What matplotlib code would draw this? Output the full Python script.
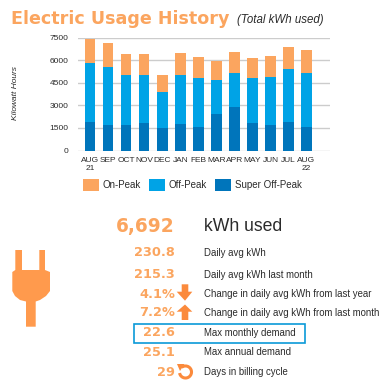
import numpy as np
import matplotlib
matplotlib.use("Agg")
from matplotlib import pyplot as plt
from matplotlib.patches import Arc, Polygon, Rectangle

months = ["AUG\n21", "SEP", "OCT", "NOV", "DEC", "JAN", "FEB", "MAR", "APR", "MAY", "JUN", "JUL", "AUG\n22"]
super_off_peak = [1897, 1720, 1676, 1853, 1522, 1765, 1588, 2404, 2912, 1809, 1676, 1897, 1544]
off_peak = [3905, 3795, 3354, 3132, 2338, 3220, 3199, 2250, 2228, 3022, 3199, 3486, 3618]
on_peak = [1628, 1615, 1370, 1405, 1180, 1485, 1433, 1316, 1410, 1329, 1365, 1497, 1530]
y_ticks = [0, 1500, 3000, 4500, 6000, 7500]

stat_values = ["6,692", "230.8", "215.3", "4.1%", "7.2%", "22.6", "25.1", "29"]
stat_labels = [
    "kWh used",
    "Daily avg kWh",
    "Daily avg kWh last month",
    "Change in daily avg kWh from last year",
    "Change in daily avg kWh from last month",
    "Max monthly demand",
    "Max annual demand",
    "Days in billing cycle",
]
stat_rows = [226.5, 253, 275, 294, 313, 333, 352, 372]

ORANGE = "#fba55f"
ICON = "#ff9a4d"
BLUE = "#00a3e6"
DARK = "#0075bb"
TEXT = "#2b2b2b"
SANS = "Liberation Sans"

W, H = 391, 389
fig = plt.figure(figsize=(W / 100, H / 100), dpi=100)

# overlay in pixel coords for the text and icons
bg = fig.add_axes([0, 0, 1, 1])
bg.set_xlim(0, W)
bg.set_ylim(H, 0)
bg.axis("off")

# bar chart
ax = fig.add_axes([78 / W, 1 - 150.5 / H, 252 / W, 113 / H])
x = np.arange(len(months))
bottom = np.zeros(len(months))
for vals, col, name in [
    (super_off_peak, DARK, "Super Off-Peak"),
    (off_peak, BLUE, "Off-Peak"),
    (on_peak, ORANGE, "On-Peak"),
]:
    ax.bar(x, vals, width=0.59, bottom=bottom, color=col, label=name, zorder=3)
    bottom += np.array(vals)

ax.set_xlim(-0.665, 13.3)
ax.set_ylim(0, 7500)
ax.set_yticks(y_ticks)
ax.set_xticks(x)
ax.set_xticklabels(months, fontsize=6, family=SANS, color=TEXT, linespacing=1.15)
ax.tick_params(axis="y", labelsize=6, labelcolor=TEXT, length=0, pad=7)
ax.tick_params(axis="x", length=0, pad=5)
for lab in ax.get_yticklabels():
    lab.set_family(SANS)
ax.grid(axis="y", color="#cccccc", linewidth=1, zorder=0)
ax.set_axisbelow(True)
for s in ax.spines.values():
    s.set_visible(False)
ax.patch.set_alpha(0)

handles, labels = ax.get_legend_handles_labels()
fig.legend(
    handles[::-1], labels[::-1], loc="center", bbox_to_anchor=(192.5 / W, 1 - 185 / H), ncol=3,
    frameon=False, prop={"family": SANS, "size": 7}, labelcolor=TEXT,
    handlelength=1.65, handleheight=1.65, handletextpad=0.35, columnspacing=0.85,
)

bg.text(11, 18.5, "Electric Usage History", fontsize=12.6, fontweight="bold", family="DejaVu Sans",
        color=ORANGE, va="center", ha="left")
bg.text(237, 19.5, "(Total kWh used)", fontsize=8.3, style="italic", family=SANS, color=TEXT,
        va="center", ha="left")
bg.text(15.7, 93, "Kilowatt Hours", fontsize=6, style="italic", family=SANS, color=TEXT,
        rotation=90, va="center", ha="center")

# stats block
for i, (val, lab, row) in enumerate(zip(stat_values, stat_labels, stat_rows)):
    bg.text(175, row, val, fontsize=13.4 if i == 0 else 9.3, fontweight="bold", family="DejaVu Sans",
            color=ORANGE, ha="right", va="center")
    bg.text(203.5, row, lab, fontsize=12.7 if i == 0 else 6.9, family=SANS, color=TEXT,
            ha="left", va="center")

bg.add_patch(Rectangle((133.5, 323.7), 171.5, 19.3, fill=False, edgecolor="#0a9ad8", linewidth=1.2))

# plug
bg.add_patch(Polygon(
    [(15.3, 250), (22, 250), (22, 270), (39.3, 270), (39.3, 250), (45, 250), (45, 270),
     (50, 272), (50, 291), (46, 296), (40, 300), (35.7, 301.5), (35.7, 326.7), (26, 326.7),
     (26, 301.5), (20, 300), (15, 296), (12.3, 291), (12.3, 272), (15.3, 270)],
    facecolor=ICON, edgecolor="none"))

# up / down arrows
bg.add_patch(Polygon(
    [(181.7, 284.3), (188.3, 284.3), (188.3, 291.7), (192.3, 291.7), (185, 300.7), (176.7, 291.7), (181.7, 291.7)],
    facecolor="#fb8a3c", edgecolor="none"))
bg.add_patch(Polygon(
    [(181.7, 320), (188.3, 320), (188.3, 311.7), (192.3, 311.7), (185, 304.5), (176.7, 311.7), (181.7, 311.7)],
    facecolor="#fb8a3c", edgecolor="none"))

# billing cycle arrow
bg.add_patch(Arc((185.5, 372), 12, 12, theta1=-130, theta2=170, color="#fb8a3c", linewidth=2.2))
bg.add_patch(Polygon([(177, 364), (184.5, 364), (180, 371)], facecolor="#fb8a3c", edgecolor="none"))

fig.savefig("out.png", dpi=100)
